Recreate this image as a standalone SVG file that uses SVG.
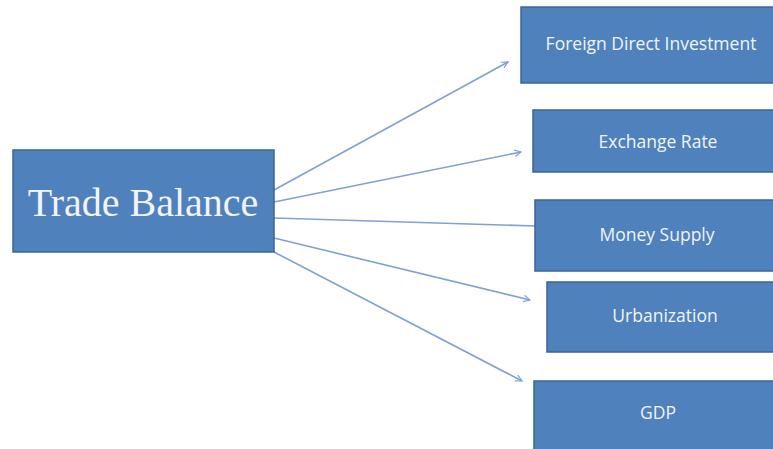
<svg xmlns="http://www.w3.org/2000/svg" width="773" height="449" viewBox="0 0 773 449">
<defs>
<style>
.box{fill:#4f81bd;stroke:#3b6496;stroke-width:1.5}
.lbl{font-family:"Open Sans","Liberation Sans",sans-serif;font-size:17.5px;fill:#f2f4f8;text-anchor:middle}
.main{font-family:"Liberation Serif",serif;font-size:40px;fill:#f2f4f8;text-anchor:middle}
.conn{stroke:#7da2d6;stroke-width:1.6;fill:none}
</style>
<marker id="arr" viewBox="0 0 10 10" refX="9" refY="5" markerWidth="8" markerHeight="8" orient="auto" markerUnits="userSpaceOnUse">
<path d="M1,1 L9,5 L1,9" fill="none" stroke="#7da2d6" stroke-width="1.5"/>
</marker>
</defs>
<rect width="773" height="449" fill="#ffffff"/>
<g id="connectors">
<line class="conn" x1="274" y1="190" x2="508" y2="62" marker-end="url(#arr)"/>
<line class="conn" x1="274" y1="202" x2="521" y2="152" marker-end="url(#arr)"/>
<line class="conn" x1="274" y1="218" x2="535" y2="226"/>
<line class="conn" x1="274" y1="238" x2="530" y2="300" marker-end="url(#arr)"/>
<line class="conn" x1="274" y1="252" x2="522" y2="381" marker-end="url(#arr)"/>
</g>
<g id="trade-balance">
<rect class="box" x="13" y="150" width="261" height="102"/>
<text class="main" x="143" y="216">Trade Balance</text>
</g>
<g id="fdi">
<rect class="box" x="521" y="7" width="260" height="76"/>
<text class="lbl" x="651" y="50">Foreign Direct Investment</text>
</g>
<g id="exchange-rate">
<rect class="box" x="533" y="110" width="250" height="62"/>
<text class="lbl" x="658" y="148">Exchange Rate</text>
</g>
<g id="money-supply">
<rect class="box" x="535" y="200" width="250" height="71"/>
<text class="lbl" x="657" y="241">Money Supply</text>
</g>
<g id="urbanization">
<rect class="box" x="547" y="282" width="240" height="70"/>
<text class="lbl" x="665" y="322">Urbanization</text>
</g>
<g id="gdp">
<rect class="box" x="534" y="381" width="250" height="80"/>
<text class="lbl" x="658" y="419">GDP</text>
</g>
</svg>
